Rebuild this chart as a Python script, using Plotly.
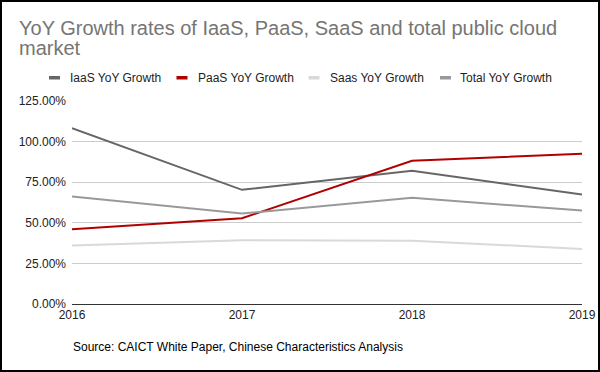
import plotly.graph_objects as go

years = [2016, 2017, 2018, 2019]
iaas = [1.083, 0.703, 0.820, 0.674]
paas = [0.460, 0.528, 0.882, 0.925]
saas = [0.360, 0.393, 0.390, 0.339]
total = [0.662, 0.557, 0.654, 0.575]

series_names = ["IaaS YoY Growth", "PaaS YoY Growth", "Saas YoY Growth", "Total YoY Growth"]
series_values = [iaas, paas, saas, total]
colors = ["#666666", "#b00000", "#d9d9d9", "#999999"]

title_lines = ["YoY Growth rates of IaaS, PaaS, SaaS and total public cloud", "market"]
source_text = "Source: CAICT White Paper, Chinese Characteristics Analysis"

W, H = 600, 372
L, R, T, B = 72, 18, 101, 68
PW, PH = W - L - R, H - T - B

def px2x(px):
    return (px - L) / PW

def px2y(py):
    return (H - B - py) / PH

FONT = "Liberation Sans, Arial, sans-serif"

fig = go.Figure()
for name, vals, col in zip(series_names, series_values, colors):
    fig.add_trace(go.Scatter(x=years, y=vals, mode="lines", name=name,
                             line=dict(color=col, width=2), showlegend=False,
                             cliponaxis=False))

shapes = []
annotations = []

# border
shapes.append(dict(type="rect", xref="paper", yref="paper",
                   x0=px2x(1), x1=px2x(599), y0=px2y(371), y1=px2y(1),
                   line=dict(color="#000000", width=2), layer="above"))

# title
for i, (line, py) in enumerate(zip(title_lines, [27.5, 48])):
    annotations.append(dict(text=line, xref="paper", yref="paper", x=px2x(17), y=px2y(py),
                            xanchor="left", yanchor="middle", showarrow=False,
                            font=dict(family=FONT, size=20, color="#757575")))

# legend
leg_sym = [49, 176.5, 308.5, 440]
leg_txt = [67.5, 195.5, 328, 458]
for name, col, sx, tx in zip(series_names, colors, leg_sym, leg_txt):
    shapes.append(dict(type="rect", xref="paper", yref="paper",
                       x0=px2x(sx), x1=px2x(sx + 11), y0=px2y(79.5), y1=px2y(76),
                       fillcolor=col, line=dict(width=0)))
    annotations.append(dict(text=name, xref="paper", yref="paper", x=px2x(tx), y=px2y(77.5),
                            xanchor="left", yanchor="middle", showarrow=False,
                            font=dict(family=FONT, size=12, color="#222222")))

# source
annotations.append(dict(text=source_text, xref="paper", yref="paper", x=px2x(70.5), y=px2y(346.5),
                        xanchor="left", yanchor="middle", showarrow=False,
                        font=dict(family=FONT, size=12, color="#000000")))

fig.update_layout(
    width=W, height=H, autosize=False,
    margin=dict(l=L, r=R, t=T, b=B, pad=0, autoexpand=False),
    paper_bgcolor="white", plot_bgcolor="white",
    font=dict(family=FONT, size=12, color="#222222"),
    shapes=shapes, annotations=annotations,
    xaxis=dict(range=[2016, 2019], tickmode="array", tickvals=years,
               ticktext=[str(y) for y in years], showgrid=False, zeroline=False,
               showline=True, linecolor="#333333", linewidth=1, ticks="",
               automargin=False, tickfont=dict(size=12, color="#222222")),
    yaxis=dict(range=[0, 1.25], dtick=0.25, tick0=0, tickformat=".2%",
               showgrid=True, gridcolor="#cccccc", gridwidth=1, zeroline=False,
               automargin=False, ticklabelstandoff=5,
               showline=False, ticks="", tickfont=dict(size=12, color="#222222")),
)

fig.write_html("out.html",
               config={"displayModeBar": False, "responsive": False},
               default_width="600px", default_height="372px",
               post_script="document.body.style.margin='0px';document.body.style.overflow='hidden';")
